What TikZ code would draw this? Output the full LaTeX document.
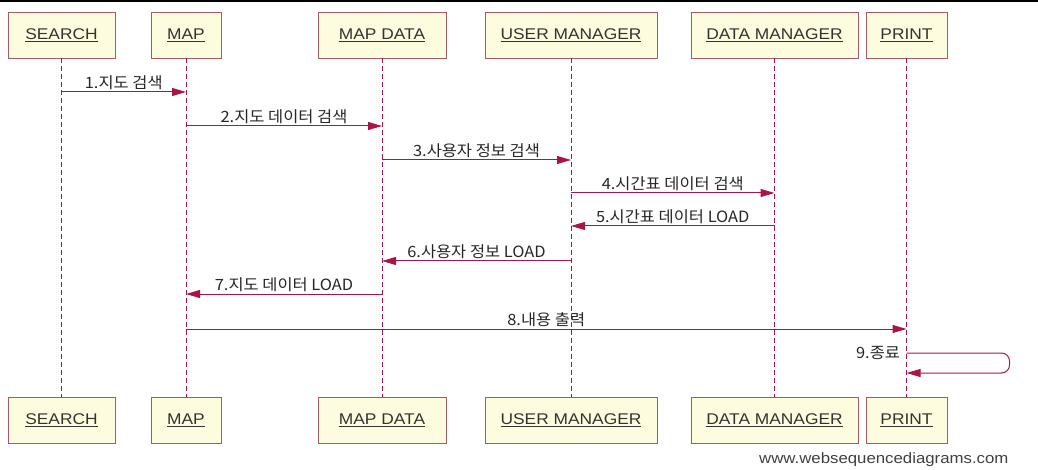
\documentclass[tikz,border=0pt]{standalone}
\usepackage{fontspec}
\setmainfont{Liberation Sans}
\newfontfamily\boxfont[FakeStretch=1.12]{Liberation Sans}
\newfontfamily\krfont[FakeStretch=1.06]{Noto Sans CJK KR}
\usetikzlibrary{arrows.meta}

\definecolor{boxfill}{RGB}{254,252,222}
\definecolor{boxline}{RGB}{165,90,100}
\definecolor{msgred}{RGB}{170,20,70}

\tikzset{
  actor/.style={draw=boxline, fill=boxfill, line width=0.9pt, minimum height=46pt,
    text=black!80, font=\boxfont\fontsize{15.5}{18}\selectfont},
  lifeline/.style={draw=msgred, line width=0.8pt, dash pattern=on 5pt off 3pt},
  msg/.style={draw=msgred, line width=1pt, -{Triangle[length=14pt,width=8pt]}},
  msglabel/.style={above, inner sep=2pt, text=black!85, font=\krfont\fontsize{15.5}{18}\selectfont}
}

\begin{document}
\begin{tikzpicture}[x=1pt, y=-1pt]
  \useasboundingbox (0,0) rectangle (1038,470);
  \fill[black] (0,0) rectangle (1038,2.5);

  % participants, top row
  \node[actor, minimum width=107pt] (search) at (61.5,35) {\underline{SEARCH}};
  \node[actor, minimum width=70pt] (map) at (186,35) {\underline{MAP}};
  \node[actor, minimum width=128pt] (mapdata) at (382,35) {\underline{MAP DATA}};
  \node[actor, minimum width=172pt] (usermgr) at (571,35) {\underline{USER MANAGER}};
  \node[actor, minimum width=167pt] (datamgr) at (774.5,35) {\underline{DATA MANAGER}};
  \node[actor, minimum width=81pt] (print) at (906.5,35) {\underline{PRINT}};

  % participants, bottom row
  \node[actor, minimum width=107pt] (searchB) at (61.5,420) {\underline{SEARCH}};
  \node[actor, minimum width=70pt] (mapB) at (186,420) {\underline{MAP}};
  \node[actor, minimum width=128pt] (mapdataB) at (382,420) {\underline{MAP DATA}};
  \node[actor, minimum width=172pt] (usermgrB) at (571,420) {\underline{USER MANAGER}};
  \node[actor, minimum width=167pt] (datamgrB) at (774.5,420) {\underline{DATA MANAGER}};
  \node[actor, minimum width=81pt] (printB) at (906.5,420) {\underline{PRINT}};

  % lifelines
  \foreach \p in {search, map, mapdata, usermgr, datamgr, print}
    \draw[lifeline] (\p) -- (\p B);

  % message heights
  \coordinate (y1) at (0,92);
  \coordinate (y2) at (0,126);
  \coordinate (y3) at (0,160);
  \coordinate (y4) at (0,193);
  \coordinate (y5) at (0,226);
  \coordinate (y6) at (0,261);
  \coordinate (y7) at (0,294);
  \coordinate (y8) at (0,329);
  \coordinate (y9) at (0,353);
  \coordinate (y9b) at (0,373);

  \draw[msg] (search |- y1) -- node[msglabel] {1.지도 검색} (map |- y1);
  \draw[msg] (map |- y2) -- node[msglabel] {2.지도 데이터 검색} (mapdata |- y2);
  \draw[msg] (mapdata |- y3) -- node[msglabel] {3.사용자 정보 검색} (usermgr |- y3);
  \draw[msg] (usermgr |- y4) -- node[msglabel] {4.시간표 데이터 검색} (datamgr |- y4);
  \draw[msg] (datamgr |- y5) -- node[msglabel] {5.시간표 데이터 LOAD} (usermgr |- y5);
  \draw[msg] (usermgr |- y6) -- node[msglabel] {6.사용자 정보 LOAD} (mapdata |- y6);
  \draw[msg] (mapdata |- y7) -- node[msglabel] {7.지도 데이터 LOAD} (map |- y7);
  \draw[msg] (map |- y8) -- node[msglabel] {8.내용 출력} (print |- y8);
  \draw[msg, rounded corners=8pt] (print |- y9)
    node[msglabel, left, inner sep=6pt] {9.종료}
    -- ++(103,0) -- ++(0,20) -- (print |- y9b);

  \node[anchor=east, text=black!75, font=\boxfont\fontsize{15}{17}\selectfont] (wsd) at (1012,460)
    {www.websequencediagrams.com};
\end{tikzpicture}
\end{document}
